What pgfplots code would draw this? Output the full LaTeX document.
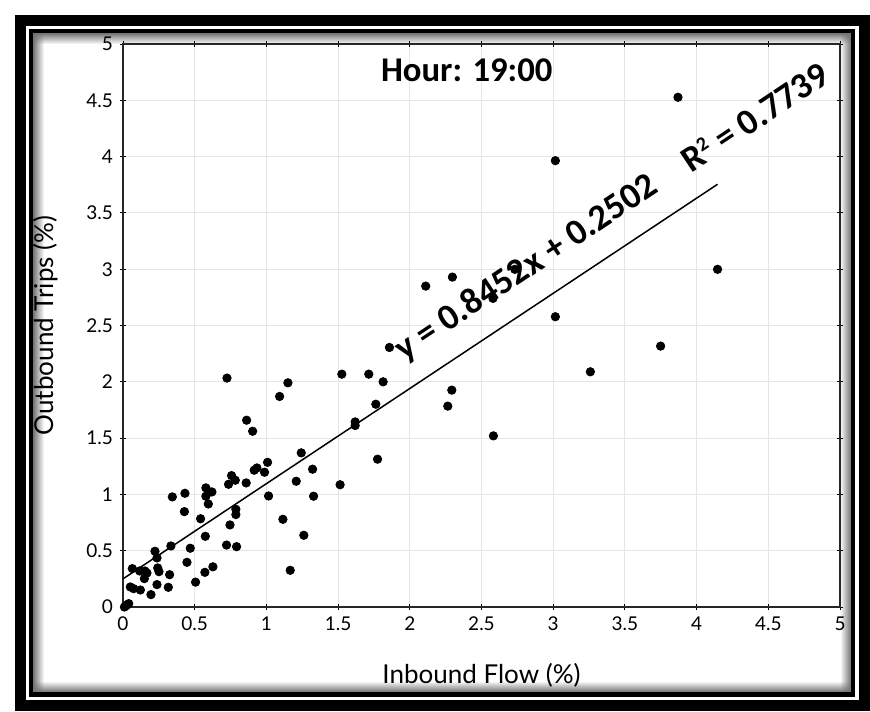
\documentclass[border=0pt]{standalone}
\usepackage{fontspec}
\setmainfont{Lato}
\newfontfamily\calib{Carlito}
\usepackage{pgfplots}
\pgfplotsset{compat=1.18}
\usetikzlibrary{fadings}
\tikzfading[name=fadeR, left color=transparent!0, right color=transparent!100]
\tikzfading[name=fadeL, left color=transparent!100, right color=transparent!0]
\tikzfading[name=fadeD, top color=transparent!0, bottom color=transparent!100]
\tikzfading[name=fadeU, top color=transparent!100, bottom color=transparent!0]
\begin{document}
\begin{tikzpicture}
\useasboundingbox (0pt,0pt) rectangle (435pt,-355.5pt);
% frame
\fill[black] (7.5pt,-7.5pt) rectangle (435pt,-355.5pt);
\fill[white] (13pt,-13pt) rectangle (429.5pt,-350pt);
\fill[black] (14.5pt,-14.5pt) rectangle (427.5pt,-348.5pt);
\fill[white] (16.5pt,-16.5pt) rectangle (425.5pt,-346pt);
\fill[black!55, path fading=fadeR] (16.5pt,-16.5pt) rectangle (22pt,-346pt);
\fill[black!55, path fading=fadeL] (420pt,-16.5pt) rectangle (425.5pt,-346pt);
\fill[black!55, path fading=fadeD] (16.5pt,-16.5pt) rectangle (425.5pt,-22pt);
\fill[black!55, path fading=fadeU] (16.5pt,-340.5pt) rectangle (425.5pt,-346pt);
\begin{axis}[
  at={(61.5pt,-303.5pt)}, anchor=south west,
  scale only axis, width=358.5pt, height=281.5pt,
  xmin=0, xmax=5, ymin=0, ymax=5,
  xtick={0,0.5,1,1.5,2,2.5,3,3.5,4,4.5,5},
  ytick={0,0.5,1,1.5,2,2.5,3,3.5,4,4.5,5},
  grid=major, major grid style={black!10, line width=0.5pt},
  tick align=center, major tick length=3pt,
  every tick/.style={black, line width=0.5pt},
  axis line style={black!85, line width=0.75pt},
  tick label style={font=\fontsize{9.5}{11}\selectfont},
  /pgf/number format/assume math mode=true,
  label style={font=\fontsize{13}{15}\selectfont},
  xlabel={Inbound Flow (\%)}, ylabel={Outbound Trips (\%)},
  xlabel style={at={(axis description cs:0.5,-0.135)}, anchor=base},
  ylabel style={at={(axis description cs:-0.0976,0.5)}, anchor=base},
  clip=false,
]
\addplot[only marks, mark=*, mark size=2.1pt, black] coordinates {
(0.01,0.0) (0.02,0.01) (0.03,0.02) (0.04,0.03)
(0.051,0.178) (0.074,0.163) (0.121,0.151) (0.065,0.341) (0.116,0.320)
(0.153,0.320) (0.167,0.302) (0.149,0.252) (0.195,0.110) (0.223,0.495)
(0.237,0.436) (0.242,0.347) (0.251,0.314) (0.237,0.199) (0.316,0.175)
(0.325,0.287) (0.334,0.542) (0.344,0.978) (0.432,1.010) (0.428,0.847)
(0.446,0.397) (0.469,0.522) (0.506,0.221) (0.541,0.784) (0.571,0.308)
(0.574,0.628) (0.627,0.357) (0.578,1.058) (0.578,0.984) (0.595,0.915)
(0.620,1.022) (0.722,0.550) (0.746,0.729) (0.792,0.536) (0.787,0.868)
(0.787,0.821) (0.736,1.090) (0.757,1.167) (0.783,1.126) (0.859,1.102)
(0.915,1.215) (0.934,1.235) (0.987,1.197) (1.008,1.285) (1.015,0.986)
(1.115,0.779) (1.166,0.326) (1.261,0.637) (1.208,1.117) (1.243,1.369)
(1.322,1.224) (1.329,0.984) (1.514,1.086) (1.775,1.313) (0.725,2.033)
(0.862,1.659) (0.904,1.561) (1.092,1.870) (1.150,1.991) (1.526,2.068)
(1.714,2.068) (1.814,2.000) (1.858,2.305) (1.763,1.801) (1.619,1.644)
(1.619,1.612) (2.293,1.926) (2.265,1.784) (2.583,1.520) (2.111,2.850)
(2.297,2.930) (2.732,2.999) (2.580,2.741) (3.015,3.964) (3.015,2.578)
(3.259,2.089) (3.749,2.317) (3.870,4.527) (4.146,2.999)
};
\addplot[black, line width=0.75pt] coordinates {(0,0.2502) (4.146,3.7544)};
\node[rotate=33.6, font=\calib\bfseries\fontsize{18.2}{20}\selectfont] at (axis cs:2.815,3.01) {y = 0.8452x + 0.2502};
\node[rotate=33.6, font=\calib\bfseries\fontsize{18.2}{20}\selectfont] at (axis cs:4.404,4.353) {R\textsuperscript{\fontsize{10}{10}\selectfont 2} = 0.7739};
\node[anchor=base, font=\calib\bfseries\fontsize{17.35}{20}\selectfont] at (axis cs:2.397,4.667) {Hour: 19:00};
\end{axis}
\end{tikzpicture}
\end{document}
